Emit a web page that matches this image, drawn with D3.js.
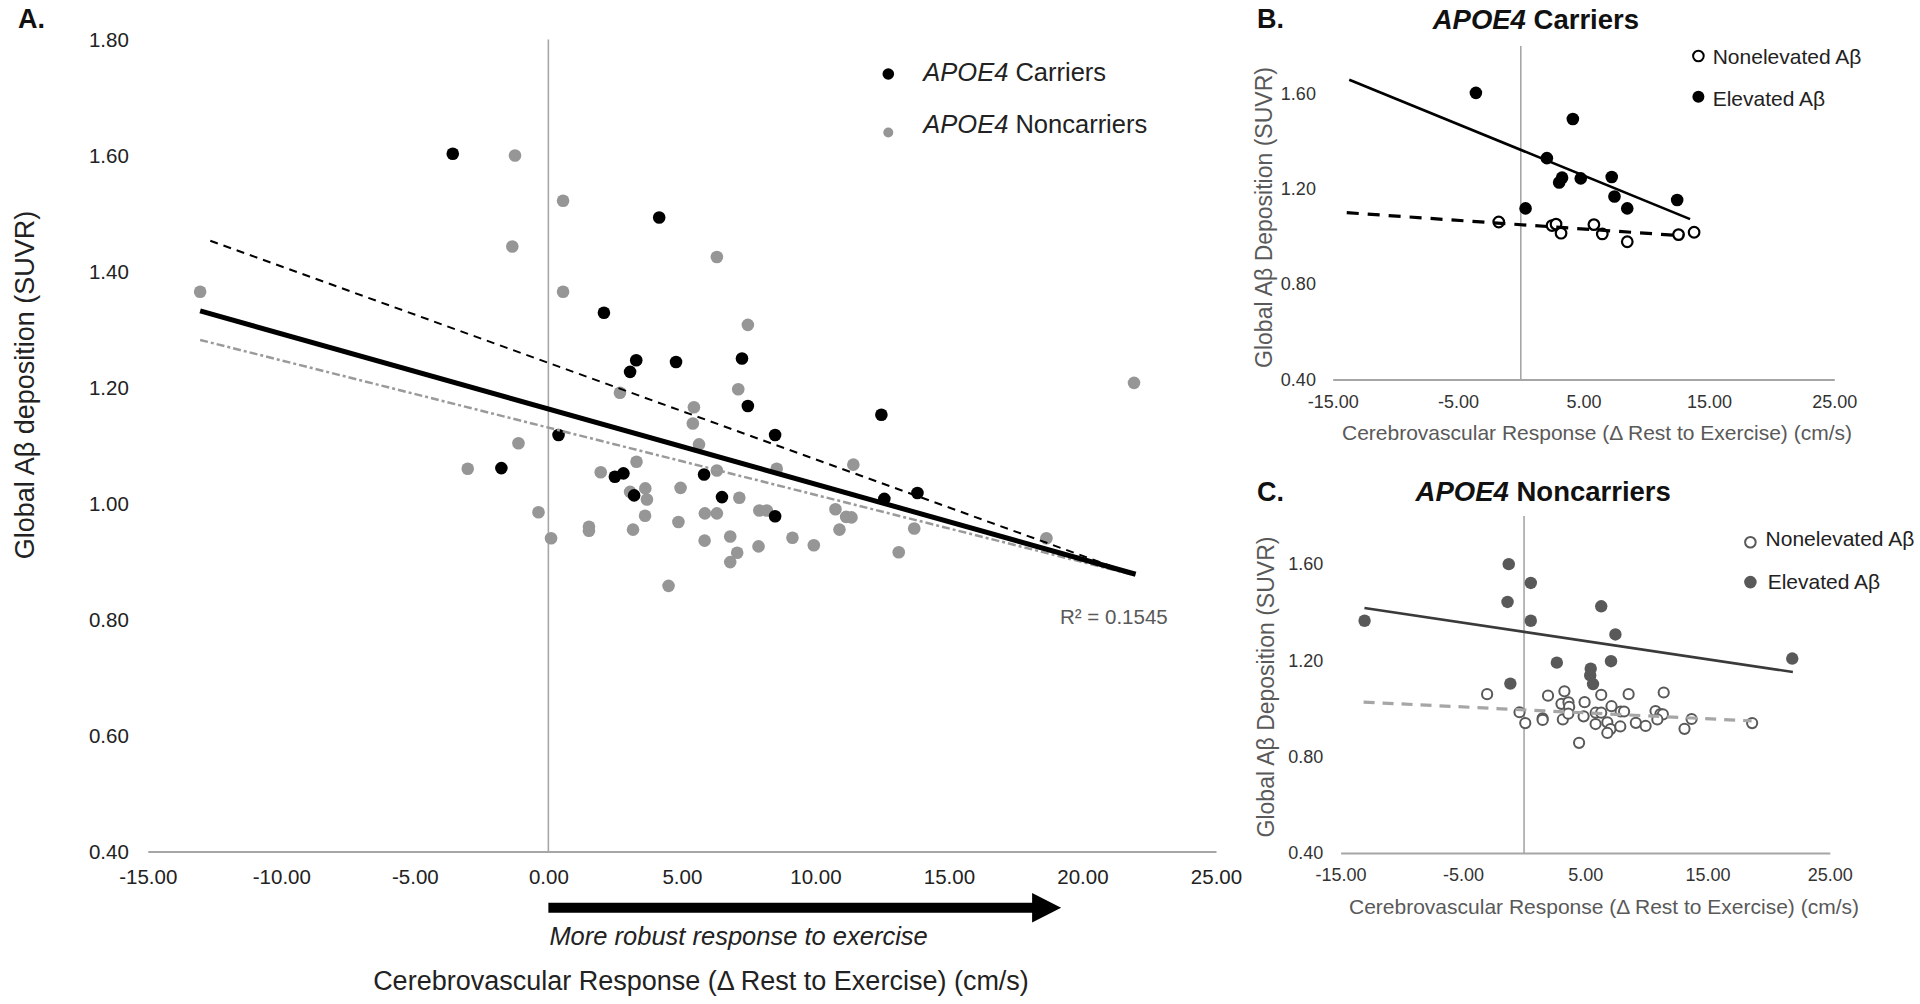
<!DOCTYPE html>
<html><head><meta charset="utf-8">
<script src="https://cdn.jsdelivr.net/npm/d3@7"></script>
<style>body{margin:0;background:#fff;} svg{display:block;font-family:"Liberation Sans",Arial,sans-serif;}</style>
</head><body><svg id="c" width="1920" height="1004"></svg>
<script>
// ---------- DATA ----------
const carriersElevated = [[-3.58,1.603],[4.15,1.493],[2.08,1.329],[3.29,1.247],[3.06,1.227],[4.78,1.244],[7.25,1.250],[7.47,1.168],[12.47,1.153],[8.49,1.118],[0.38,1.118]];
const carriersNonelevated = [[-1.76,1.061],[2.49,1.046],[2.81,1.052],[5.83,1.050],[3.21,1.014],[6.50,1.011],[12.58,1.008],[13.82,1.018],[8.49,0.978]];
const noncarriersElevated = [[-13.04,1.365],[-1.25,1.600],[-1.35,1.443],[0.55,1.522],[0.55,1.365],[-1.12,1.104],[2.68,1.191],[6.31,1.425],[7.47,1.308],[7.11,1.197],[5.45,1.166],[5.41,1.138],[5.64,1.102],[21.93,1.208]];
const noncarriersNonelevated = [[-3.02,1.060],[1.96,1.054],[3.30,1.072],[3.06,1.020],[-0.37,0.985],[0.10,0.940],[1.52,0.960],[1.52,0.953],[3.17,0.955],[11.42,1.067],[6.31,1.057],[8.55,1.060],[3.63,1.026],[3.69,1.007],[4.95,1.027],[7.15,1.010],[7.90,0.988],[8.18,0.988],[10.75,0.990],[11.15,0.977],[11.35,0.976],[3.62,0.979],[4.87,0.968],[5.86,0.983],[6.31,0.983],[5.85,0.936],[6.81,0.943],[7.07,0.915],[6.81,0.899],[7.87,0.926],[9.14,0.941],[9.94,0.928],[10.90,0.955],[13.70,0.957],[13.12,0.916],[18.65,0.940],[4.50,0.858]];

// trend lines (end points)
const trendAllA = [[-13.04,1.332],[21.99,0.878]];
const trendCarriersA = [[-12.66,1.453],[21.68,0.882]];
const trendNoncarriersA = [[-13.04,1.282],[21.90,0.877]];
const trendCarElevB = [[-13.68,1.658],[13.50,1.073]];
const trendCarNonB = [[-13.88,1.100],[12.90,1.003]];
const trendNonElevC = [[-13.05,1.418],[21.98,1.152]];
const trendNonNonC = [[-13.12,1.027],[18.61,0.949]];

const xTicksA = [-15,-10,-5,0,5,10,15,20,25];
const yTicksA = [0.4,0.6,0.8,1.0,1.2,1.4,1.6,1.8];
const xTicksBC = [-15,-5,5,15,25];
const yTicksBC = [0.4,0.8,1.2,1.6];
const arrowSpanA = [0, 19.2];
const r2Label = "R² = 0.1545";
const xTitle = "Cerebrovascular Response (Δ Rest to Exercise) (cm/s)";

// ---------- DRAWING ----------
const svg = d3.select("#c");
svg.append("rect").attr("width",1920).attr("height",1004).attr("fill","#fff");
const fmt = d3.formatLocale({decimal:".", thousands:",", grouping:[3], currency:["",""], minus:"-"}).format(".2f");
const FONT = '"Liberation Sans",Arial,sans-serif';

function axes(x, y, xt, yt, o) {
  const gx = svg.append("g").attr("transform",`translate(0,${y(0.4)})`)
    .call(d3.axisBottom(x).tickValues(xt).tickFormat(fmt).tickSize(0).tickPadding(o.xpad));
  gx.attr("font-size",null).attr("font-family",null);
  gx.select(".domain").attr("stroke","#a6a6a6").attr("stroke-width",2);
  gx.selectAll("text").attr("font-size",o.fs).attr("fill",o.tc).attr("font-family",FONT);
  const gy = svg.append("g").attr("transform",`translate(${x(-15)},0)`)
    .call(d3.axisLeft(y).tickValues(yt).tickFormat(fmt).tickSize(0).tickPadding(o.ypad));
  gy.attr("font-size",null).attr("font-family",null);
  gy.select(".domain").remove();
  gy.selectAll("text").attr("font-size",o.fs).attr("fill",o.tc).attr("font-family",FONT);
  svg.append("line").attr("x1",x(0)).attr("x2",x(0)).attr("y1",y(1.8)).attr("y2",y(0.4))
    .attr("stroke","#a6a6a6").attr("stroke-width",1.6);
}
function dots(x, y, data, r, fill, stroke, sw) {
  svg.append("g").selectAll("circle").data(data).join("circle")
    .attr("cx",d=>x(d[0])).attr("cy",d=>y(d[1])).attr("r",r)
    .attr("fill",fill).attr("stroke",stroke||"none").attr("stroke-width",sw||0);
}
function trend(x, y, data, color, w, dash) {
  svg.append("path").datum(data)
    .attr("d", d3.line().x(d=>x(d[0])).y(d=>y(d[1])))
    .attr("fill","none").attr("stroke",color).attr("stroke-width",w)
    .attr("stroke-dasharray",dash||null);
}
function text(x, y, s, o) {
  const t = svg.append("text").attr("x",x).attr("y",y)
    .attr("font-size",o.fs).attr("fill",o.fill||"#222")
    .attr("font-weight",o.fw||"normal").attr("font-style",o.it?"italic":"normal")
    .attr("text-anchor",o.anchor||"start");
  if (o.rot) t.attr("transform",`rotate(-90,${x},${y})`);
  if (o.dom) t.attr("dominant-baseline",o.dom);
  if (o.italicPrefix) {
    t.append("tspan").attr("font-style","italic").text(o.italicPrefix);
    t.append("tspan").text(s);
  } else t.text(s);
  return t;
}

// ===== Panel A =====
const xA = d3.scaleLinear().domain([-15,25]).range([147.8,1216]);
const yA = d3.scaleLinear().domain([0.4,1.8]).range([851.5,39.5]);
axes(xA, yA, xTicksA, yTicksA, {xpad:18, ypad:19, fs:20.5, tc:"#222"});
dots(xA, yA, noncarriersElevated.concat(noncarriersNonelevated), 6.3, "#969696");
dots(xA, yA, carriersElevated.concat(carriersNonelevated), 6.3, "#000");
trend(xA, yA, trendNoncarriersA, "#9a9a9a", 2.5, "8,3,3,3");
trend(xA, yA, trendCarriersA, "#000", 2, "8,6");
trend(xA, yA, trendAllA, "#000", 5);

text(18, 28, "A.", {fs:27, fw:"bold", fill:"#111"});
svg.append("circle").attr("cx",888.3).attr("cy",74).attr("r",5.8).attr("fill","#000");
svg.append("circle").attr("cx",888.3).attr("cy",132.5).attr("r",5).attr("fill","#969696");
text(923.3, 80.5, " Carriers", {fs:25.5, italicPrefix:"APOE4"});
text(923.3, 133, " Noncarriers", {fs:25.5, italicPrefix:"APOE4"});
text(1060, 624, r2Label, {fs:20.5, fill:"#595959"});

// arrow
const ax0 = xA(arrowSpanA[0]), ax1 = xA(arrowSpanA[1]), ay = 907.7;
svg.append("path")
  .attr("d", `M${ax0},${ay-5}H${ax1-29}V${ay-14.7}L${ax1},${ay}L${ax1-29},${ay+14.7}V${ay+5}H${ax0}Z`)
  .attr("fill","#000");
text(ax0+1, 945, "More robust response to exercise", {fs:25.5, it:true});
text(701, 990, xTitle, {fs:27, anchor:"middle"});
text(25, 385, "Global Aβ deposition (SUVR)", {fs:27, anchor:"middle", rot:true, dom:"central"});

// ===== Panel B =====
const xB = d3.scaleLinear().domain([-15,25]).range([1332.7,1834.3]);
const yB = d3.scaleLinear().domain([0.4,1.8]).range([379.5,45.9]);
axes(xB, yB, xTicksBC, yTicksBC, {xpad:15.8, ypad:16.8, fs:18, tc:"#333"});
dots(xB, yB, carriersElevated, 6.3, "#000");
dots(xB, yB, carriersNonelevated, 5.3, "#fff", "#000", 2.2);
trend(xB, yB, trendCarElevB, "#000", 2.6);
trend(xB, yB, trendCarNonB, "#000", 3.2, "12,9");
text(1257, 27.5, "B.", {fs:27, fw:"bold", fill:"#111"});
text(1432.7, 28.6, " Carriers", {fs:27.5, fw:"bold", fill:"#111", italicPrefix:"APOE4"});
svg.append("circle").attr("cx",1698.4).attr("cy",56).attr("r",5.3).attr("fill","#fff").attr("stroke","#000").attr("stroke-width",2);
svg.append("circle").attr("cx",1698.4).attr("cy",96.7).attr("r",6).attr("fill","#000");
text(1712.7, 63.5, "Nonelevated Aβ", {fs:21});
text(1712.7, 105.8, "Elevated Aβ", {fs:21});
text(1597, 439.7, xTitle, {fs:21, anchor:"middle", fill:"#595959"});
text(1264, 217.5, "Global Aβ Deposition (SUVR)", {fs:23, anchor:"middle", rot:true, dom:"central", fill:"#595959"});

// ===== Panel C =====
const xC = d3.scaleLinear().domain([-15,25]).range([1340.6,1829.8]);
const yC = d3.scaleLinear().domain([0.4,1.8]).range([853.1,516.0]);
axes(xC, yC, xTicksBC, yTicksBC, {xpad:15.1, ypad:17.3, fs:18, tc:"#333"});
dots(xC, yC, noncarriersElevated, 6.2, "#595959");
dots(xC, yC, noncarriersNonelevated, 5.1, "#fff", "#595959", 2);
trend(xC, yC, trendNonElevC, "#3a3a3a", 2.6);
trend(xC, yC, trendNonNonC, "#a6a6a6", 3.2, "11,8");
text(1257, 500.5, "C.", {fs:27, fw:"bold", fill:"#111"});
text(1415.6, 501, " Noncarriers", {fs:27.5, fw:"bold", fill:"#111", italicPrefix:"APOE4"});
svg.append("circle").attr("cx",1750.4).attr("cy",542.2).attr("r",5.3).attr("fill","#fff").attr("stroke","#595959").attr("stroke-width",2);
svg.append("circle").attr("cx",1750.4).attr("cy",582.1).attr("r",6.3).attr("fill","#595959");
text(1765.6, 545.5, "Nonelevated Aβ", {fs:21});
text(1767.7, 589.3, "Elevated Aβ", {fs:21});
text(1604, 914, xTitle, {fs:21, anchor:"middle", fill:"#595959"});
text(1266, 687, "Global Aβ Deposition (SUVR)", {fs:23, anchor:"middle", rot:true, dom:"central", fill:"#595959"});
</script></body></html>
